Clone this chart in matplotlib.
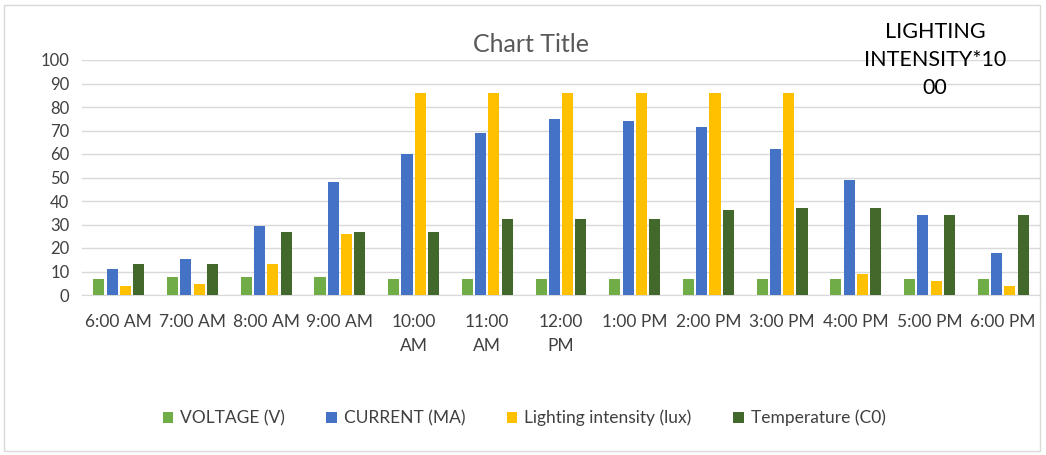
import numpy as np
import matplotlib.pyplot as plt
from matplotlib.patches import Rectangle

plt.rcParams['font.family'] = ['Lato', 'DejaVu Sans']

# hourly readings
times = ['6:00 AM', '7:00 AM', '8:00 AM', '9:00 AM', '10:00\nAM', '11:00\nAM', '12:00\nPM',
         '1:00 PM', '2:00 PM', '3:00 PM', '4:00 PM', '5:00 PM', '6:00 PM']
voltage = [7, 7.5, 7.5, 7.5, 7, 7, 7, 7, 7, 7, 7, 7, 7]
current = [11, 15.5, 29.5, 48, 60, 69, 75, 74, 71.5, 62, 49, 34, 18]
lighting = [4, 4.5, 13, 26, 86, 86, 86, 86, 86, 86, 9, 6, 4]
temperature = [13, 13, 27, 27, 27, 32.5, 32.5, 32.5, 36, 37, 37, 34, 34]

names = ['VOLTAGE (V)', 'CURRENT (MA)', 'Lighting intensity (lux)', 'Temperature (C0)']
colors = ['#70AD47', '#4472C4', '#FFC000', '#43682B']

fig = plt.figure(figsize=(10.46, 4.55), dpi=100)
ax = fig.add_axes([82 / 1046, 1 - 295 / 455, 958 / 1046, 235 / 455])

x = np.arange(len(times))
width = 0.15
offsets = [-1.5, -0.5, 0.5, 1.5]
for series, name, c, off in zip([voltage, current, lighting, temperature], names, colors, offsets):
    ax.bar(x + off * 0.18, series, width, color=c, label=name, zorder=3)

ax.set_xlim(-0.5, len(times) - 0.5)
ax.set_ylim(0, 100)
ax.set_yticks(range(0, 101, 10))
ax.set_xticks(x)
ax.set_xticklabels(times, fontsize=12.5, color='#404040', linespacing=1.6)
ax.tick_params(axis='y', labelsize=12, labelcolor='#404040', length=0, pad=9)
ax.tick_params(axis='x', length=0, pad=14)
ax.grid(axis='y', color='#D9D9D9', linewidth=1, zorder=0)
for s in ['top', 'right', 'left']:
    ax.spines[s].set_visible(False)
ax.spines['bottom'].set_color('#D9D9D9')

fig.text(531 / 1046, 1 - 45 / 455, 'Chart Title', ha='center', va='center', fontsize=18, color='#595959')
fig.text(935 / 1046, 1 - 60 / 455, 'LIGHTING\nINTENSITY*10\n00', ha='center', va='center',
         fontsize=15.5, color='black', linespacing=1.5)

fig.legend(loc='center', bbox_to_anchor=(524 / 1046, 1 - 418 / 455), ncol=4, frameon=False,
           fontsize=12.5, handlelength=0.6, handleheight=0.6, columnspacing=2.4, handletextpad=0.4,
           labelcolor='#404040')

fig.patches.append(Rectangle((4 / 1046, 4 / 455), 1036 / 1046, 446 / 455, transform=fig.transFigure,
                             fill=False, edgecolor='#D9D9D9', linewidth=1))

fig.savefig('out.png', dpi=100)
